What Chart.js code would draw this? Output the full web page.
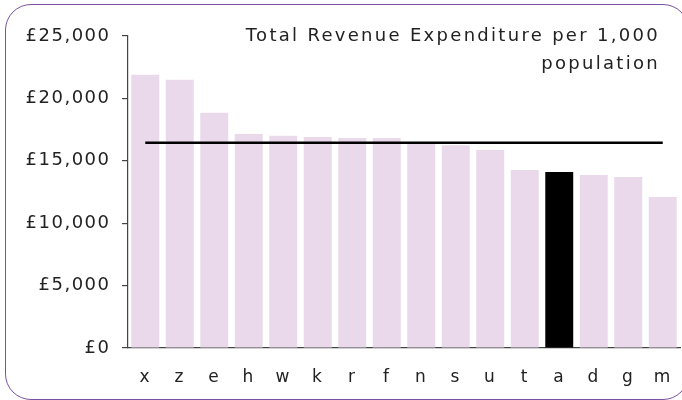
<!DOCTYPE html>
<html>
<head>
<meta charset="utf-8">
<script src="https://cdn.jsdelivr.net/npm/chart.js@4/dist/chart.umd.min.js"></script>
<style>
  html, body { margin: 0; padding: 0; background: #fff; }
  #wrap { position: relative; width: 682px; height: 400px; overflow: hidden; }
  #frame { position: absolute; left: 5px; top: 4px; width: 684px; height: 395.5px;
           border: 1.6px solid #7b52a1; border-radius: 26px; box-sizing: border-box; }
  #title { position: absolute; right: 22px; top: 21px; text-align: right;
           font-family: "DejaVu Sans", sans-serif; font-size: 18px; line-height: 27.5px;
           letter-spacing: 2.3px; color: #222; }
  canvas { position: absolute; left: 0; top: 0; }
</style>
</head>
<body>
<div id="wrap">
  <canvas id="c" width="682" height="400"></canvas>
  <div id="frame"></div>
  <div id="title">Total Revenue Expenditure per 1,000<br>population</div>
</div>
<script>
const categories = ['x','z','e','h','w','k','r','f','n','s','u','t','a','d','g','m'];
const expenditure = [21900, 21500, 18850, 17150, 17000, 16900, 16830, 16830, 16400, 16250, 15870, 14270, 14100, 13870, 13700, 12100];
const averageValue = 16450;
const averageLine = categories.map(() => averageValue);
const yTickValues = [0, 5000, 10000, 15000, 20000, 25000];
const highlighted = 'a';

const barColours = categories.map(c => c === highlighted ? '#000000' : '#e9d9eb');

const spacing = {
  id: 'spacing',
  beforeLayout(chart) { chart.ctx.letterSpacing = '1.5px'; },
  beforeDraw(chart) { chart.ctx.letterSpacing = '1.5px'; }
};

new Chart(document.getElementById('c'), {
  data: {
    labels: categories,
    datasets: [
      {
        type: 'line',
        data: averageLine,
        borderColor: '#000',
        borderWidth: 2.5,
        pointRadius: 0,
        order: 0
      },
      {
        type: 'bar',
        data: expenditure,
        backgroundColor: barColours,
        barPercentage: 0.81,
        categoryPercentage: 1.0,
        order: 1
      }
    ]
  },
  plugins: [spacing],
  options: {
    responsive: false,
    animation: false,
    layout: { padding: { left: 0, right: 2, top: 36, bottom: 0 } },
    plugins: { legend: { display: false }, tooltip: { enabled: false } },
    scales: {
      x: {
        grid: { display: false, drawTicks: false },
        border: { display: true, color: '#444', width: 1.2 },
        ticks: { color: '#222', padding: 19, font: { family: 'DejaVu Sans', size: 17 } },
        afterFit: (s) => { s.height = 52; s.paddingLeft = 0; s.paddingRight = 0; }
      },
      y: {
        min: 0, max: 25000,
        afterBuildTicks: (s) => { s.ticks = yTickValues.map(v => ({ value: v })); },
        grid: { drawOnChartArea: false, drawTicks: true, tickLength: 6, color: '#444', lineWidth: 1.2 },
        border: { display: true, color: '#444', width: 1.2 },
        ticks: {
          color: '#222', padding: 11.5,
          font: { family: 'DejaVu Sans', size: 18 },
          callback: (v) => '£' + Number(v).toLocaleString('en-GB')
        },
        afterFit: (s) => { s.width = 128; s.paddingTop = 0; s.paddingBottom = 0; }
      }
    }
  }
});
</script>
</body>
</html>
